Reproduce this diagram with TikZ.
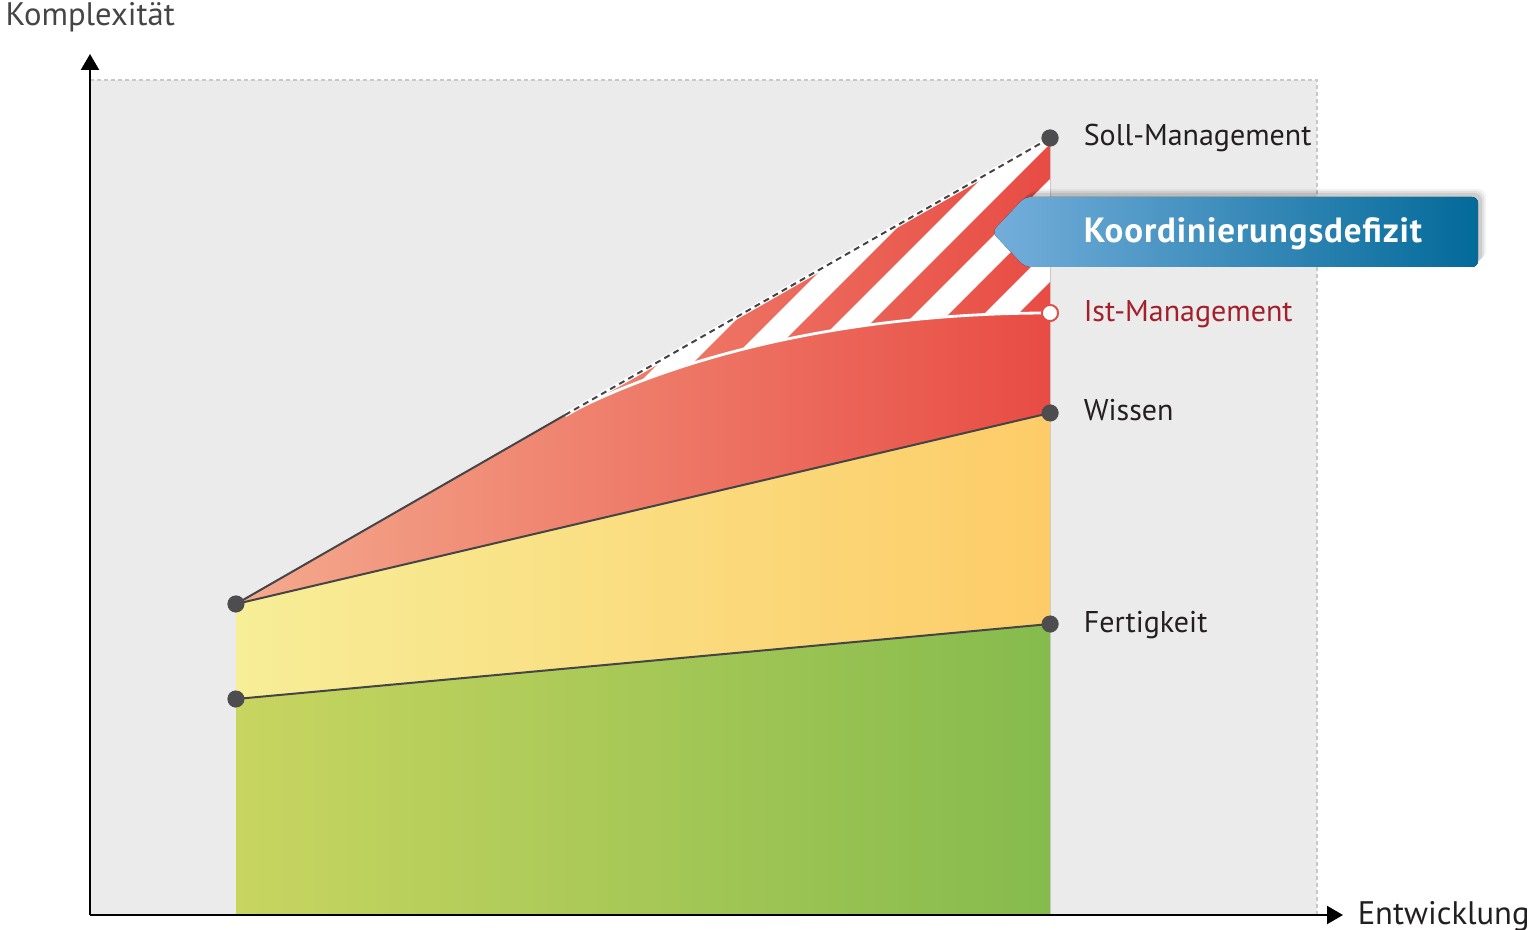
\documentclass[tikz,border=0pt]{standalone}
\usepackage{fontspec}
\setmainfont{PT Sans}
\usetikzlibrary{arrows.meta}

\definecolor{bgGray}{HTML}{EBEBEB}
\definecolor{frameGray}{HTML}{C8C8C8}
\definecolor{dotGray}{HTML}{4D4D4F}
\definecolor{lineGray}{HTML}{454547}
\definecolor{textGray}{HTML}{231F20}
\definecolor{istRed}{HTML}{A3202B}
\definecolor{dotRed}{HTML}{E0504A}
\definecolor{redL}{HTML}{F4AA8E}
\definecolor{redR}{HTML}{E84C44}
\definecolor{yelL}{HTML}{F7EE98}
\definecolor{yelR}{HTML}{FDCC68}
\definecolor{grnL}{HTML}{C8D560}
\definecolor{grnR}{HTML}{85BB4D}
\definecolor{blueL}{HTML}{74AEDB}
\definecolor{blueR}{HTML}{036A99}

\tikzset{every picture/.style={line width=0.75pt}}

\begin{document}
\begin{tikzpicture}[x=0.5pt,y=0.5pt,yscale=-1,
  dot/.style={circle,fill=dotGray,inner sep=0pt,minimum size=8.5pt},
  openDot/.style={circle,fill=white,draw=dotRed,line width=0.9pt,inner sep=0pt,minimum size=8pt},
  layerLine/.style={draw=lineGray,line width=1pt},
  stripe/.style={white,line width=12pt},
  axis/.style={line width=1.1pt,-{Triangle[length=8pt,width=9pt]}},
  lbl/.style={anchor=base west,font=\fontsize{15}{18}\selectfont,text=textGray,inner sep=0pt}]
  \useasboundingbox (0,0) rectangle (1531,930);

  %Shape: Rectangle [id:background]
  \fill[bgGray] (90,80) rectangle (1317,915);
  \draw[frameGray,dash pattern=on 2pt off 1.5pt,line width=0.6pt] (90,80) -- (1317,80) -- (1317,915);

  % points
  \coordinate (origin) at (90,915);
  \coordinate (yEnd) at (90,54);
  \coordinate (xEnd) at (1343,915);
  \coordinate (istStart) at (565,415);
  \coordinate (baseL) at (236,915);
  \coordinate (baseR) at (1050,915);
  \node[dot] (wissenL) at (236,604) {};
  \node[dot] (fertL) at (236,699) {};
  \node[dot] (sollR) at (1050,138) {};
  \node[openDot] (istR) at (1050,313) {};
  \node[dot] (wissenR) at (1050,413) {};
  \node[dot] (fertR) at (1050,624) {};

  %Shape: Polygon [id:green]
  \fill[left color=grnL,right color=grnR] (fertL.center) -- (fertR.center) -- (baseR) -- (baseL) -- cycle;
  %Shape: Polygon [id:yellow]
  \fill[left color=yelL,right color=yelR] (wissenL.center) -- (wissenR.center) -- (fertR.center) -- (fertL.center) -- cycle;
  %Shape: Polygon [id:red]
  \fill[left color=redL,right color=redR] (wissenL.center) -- (sollR.center) -- (wissenR.center) -- cycle;

  %Shape: Stripes [id:deficit]
  \begin{scope}
    \clip (istStart) -- (sollR.center) -- (istR.center) .. controls (850,313) and (680,355) .. (istStart) -- cycle;
    \foreach \k in {-5,...,2}
      \draw[stripe] ({1246+69*\k-100},100) -- ({1246+69*\k-500},500);
  \end{scope}

  %Curve Lines [id:ist]
  \draw[white,line width=1.4pt] (istStart) .. controls (680,355) and (850,313) .. (istR.center);
  %Straight Lines [id:soll]
  \draw[white,line width=2.2pt] (istStart) -- (sollR.center);
  \draw[lineGray,line width=1pt,dash pattern=on 3pt off 2.2pt] (istStart) -- (sollR.center);
  \draw[layerLine] (wissenL.center) -- (istStart);
  %Straight Lines [id:wissen]
  \draw[layerLine] (wissenL.center) -- (wissenR.center);
  %Straight Lines [id:fertigkeit]
  \draw[layerLine] (fertL.center) -- (fertR.center);

  % dots on top
  \node[dot] at (wissenL) {};
  \node[dot] at (fertL) {};
  \node[dot] at (sollR) {};
  \node[openDot] at (istR) {};
  \node[dot] at (wissenR) {};
  \node[dot] at (fertR) {};

  %Straight Lines [id:axes]
  \draw[axis] (origin) -- (yEnd);
  \draw[axis] (origin) -- (xEnd);

  %Shape: Callout [id:callout]
  \foreach \s/\o in {8/0.05,6/0.07,4/0.09}
    \fill[black,opacity=\o,rounded corners=4pt,xshift=\s*0.5pt,yshift=-\s*0.5pt] (992,232) -- (1025,197) -- (1478,197) -- (1478,267) -- (1025,267) -- cycle;
  \fill[left color=blueL,right color=blueR,rounded corners=3pt] (992,232) -- (1025,197) -- (1478,197) -- (1478,267) -- (1025,267) -- cycle;

  % Text Node
  \node[anchor=base west,font=\bfseries\fontsize{17.5}{20}\selectfont\addfontfeature{LetterSpace=2.5},text=white,inner sep=0pt] (deficitLabel) at (1083,243) {Koordinierungsdefizit};
  % Text Node
  \node[lbl] (sollLabel) at (1083,146) {Soll-Management};
  % Text Node
  \node[lbl,text=istRed] (istLabel) at (1083,322) {Ist-Management};
  % Text Node
  \node[lbl] (wissenLabel) at (1083,421) {Wissen};
  % Text Node
  \node[lbl] (fertLabel) at (1083,632) {Fertigkeit};
  % Text Node
  \node[lbl,font=\fontsize{16.3}{18}\selectfont,text=lineGray] (yLabel) at (5,26) {Komplexität};
  % Text Node
  \node[lbl,font=\fontsize{16.3}{18}\selectfont] (xLabel) at (1357,924) {Entwicklung};
\end{tikzpicture}
\end{document}
